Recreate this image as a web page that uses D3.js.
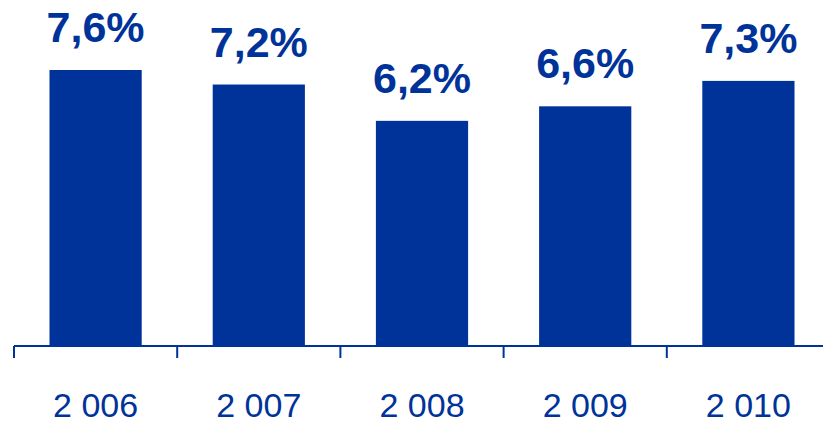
<!DOCTYPE html>
<html lang="en">
<head>
  <meta charset="UTF-8">
  <title>Bar chart</title>
  <style>
    html, body { margin: 0; padding: 0; background: #fff; }
    svg { display: block; }
    text { font-family: "Liberation Sans", Arial, sans-serif; fill: #003399; }
  </style>
</head>
<body>
  <svg class="chart"></svg>
  <script src="https://cdnjs.cloudflare.com/ajax/libs/d3/7.8.5/d3.min.js"></script>
  <script>
    // 資料
    const years = ["2 006", "2 007", "2 008", "2 009", "2 010"];
    const values = [7.6, 7.2, 6.2, 6.6, 7.3];
    const valueLabels = ["7,6%", "7,2%", "6,2%", "6,6%", "7,3%"];

    const width = 823, height = 422,
      left = 14, right = 830, // 軸線右端超出畫面
      baseY = 346, topY = 70,
      color = "#003399";

    const svg = d3.select("svg.chart").attr("width", width).attr("height", height);

    // 比例
    const x = d3.scaleBand().domain(years).range([left, right]).padding(0);
    const y = d3.scaleLinear().domain([0, 7.6]).range([baseY, topY]);
    const barW = x.bandwidth() * 0.565;

    // 長條
    svg.append("g").selectAll("rect")
      .data(values)
      .enter()
      .append("rect")
      .attr("x", (d, i) => x(years[i]) + (x.bandwidth() - barW) / 2)
      .attr("y", d => y(d))
      .attr("width", barW)
      .attr("height", d => baseY - y(d))
      .attr("fill", color);

    // 數值文字
    svg.append("g").selectAll("text")
      .data(values)
      .enter()
      .append("text")
      .text((d, i) => valueLabels[i])
      .attr("x", (d, i) => x(years[i]) + x.bandwidth() / 2)
      .attr("y", d => y(d) - 28)
      .attr("text-anchor", "middle")
      .attr("font-weight", "bold")
      .attr("font-size", "43px");

    // X軸
    const axis = svg.append("g").attr("transform", `translate(0,${baseY})`);
    axis.append("line")
      .attr("x1", left).attr("x2", right)
      .attr("stroke", color).attr("stroke-width", 2);

    // 刻度在每組邊界
    const edges = years.map(d => x(d)).concat([x(years[years.length - 1]) + x.bandwidth()]);
    axis.selectAll("line.tick")
      .data(edges)
      .enter()
      .append("line")
      .attr("class", "tick")
      .attr("x1", d => d).attr("x2", d => d)
      .attr("y1", 0).attr("y2", 12)
      .attr("stroke", color).attr("stroke-width", 2);

    axis.selectAll("text")
      .data(years)
      .enter()
      .append("text")
      .text(d => d)
      .attr("x", d => x(d) + x.bandwidth() / 2)
      .attr("y", 71)
      .attr("text-anchor", "middle")
      .attr("font-size", "34px");
  </script>
</body>
</html>
